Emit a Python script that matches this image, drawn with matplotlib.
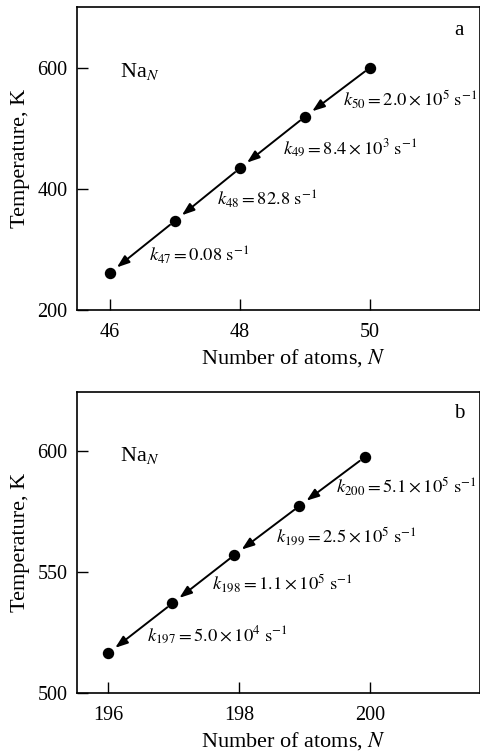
import matplotlib
matplotlib.use("Agg")
import matplotlib.pyplot as plt

plt.rcParams['font.family'] = ['Liberation Serif', 'DejaVu Serif']
plt.rcParams['mathtext.fontset'] = 'stix'

# Panel a: Na_N, N = 46..50
n_a = [46, 47, 48, 49, 50]
temp_a = [261, 347, 434, 519, 600]
rate_sub_a = ['47', '48', '49', '50']
rate_val_a = ['0.08', '82.8', r'8.4\times10^3', r'2.0\times10^5']

# Panel b: Na_N, N = 196..200
n_b = [196.0, 196.98, 197.93, 198.92, 199.92]
temp_b = [516.5, 537.1, 557.1, 577.3, 597.5]
rate_sub_b = ['197', '198', '199', '200']
rate_val_b = [r'5.0\times10^4', r'1.1\times10^5', r'2.5\times10^5', r'5.1\times10^5']

fig = plt.figure(figsize=(4.81, 7.51), dpi=100)
ax_a = fig.add_axes([0.1607, 0.5872, 0.8372, 0.4035])
ax_b = fig.add_axes([0.1607, 0.0768, 0.8372, 0.4016])


def draw_panel(ax, n, temp, subs, vals, xlim, ylim, xticks, yticks,
               label_pos, panel, panel_pos, na_pos):
    ax.plot(n, temp, 'o', color='black', markersize=7.2, zorder=3)
    for i in range(len(n) - 1, 0, -1):
        ax.annotate('', xy=(n[i - 1], temp[i - 1]), xytext=(n[i], temp[i]),
                    arrowprops=dict(arrowstyle='-|>,head_length=0.75,head_width=0.27',
                                    color='black', lw=1.4, shrinkA=4.5, shrinkB=6.5))
    for (x, y), s, v in zip(label_pos, subs, vals):
        ax.text(x, y, rf'$k_{{{s}}} = {v}\ \mathrm{{s}}^{{-1}}$', fontsize=13.3,
                ha='left', va='center')
    ax.text(panel_pos[0], panel_pos[1], panel, fontsize=15, ha='center', va='center')
    ax.text(na_pos[0], na_pos[1], r'Na$_{N}$', fontsize=16, ha='left', va='center')
    ax.set_xlim(*xlim)
    ax.set_ylim(*ylim)
    ax.set_xticks(xticks)
    ax.set_yticks(yticks)
    ax.tick_params(direction='in', length=8, width=1, labelsize=14.5)
    ax.tick_params(axis='x', pad=9)
    ax.tick_params(axis='y', pad=7)
    for sp in ax.spines.values():
        sp.set_linewidth(1.2)
    ax.set_xlabel(r'Number of atoms, $N$', fontsize=16)
    ax.set_ylabel('Temperature, K', fontsize=16)
    ax.xaxis.set_label_coords(0.538, -0.122)
    ax.yaxis.set_label_coords(-0.118, 0.5)


draw_panel(ax_a, n_a, temp_a, rate_sub_a, rate_val_a,
           (45.5, 51.69), (200, 700), [46, 48, 50], [200, 400, 600],
           [(46.6, 290), (47.65, 382), (48.66, 468), (49.58, 547)],
           'a', (51.37, 662), (46.15, 594))

draw_panel(ax_b, n_b, temp_b, rate_sub_b, rate_val_b,
           (195.53, 201.68), (500, 624.5), [196, 198, 200], [500, 550, 600],
           [(196.6, 524), (197.59, 545.4), (198.56, 565), (199.48, 585.2)],
           'b', (201.37, 615.5), (196.18, 598.3))

fig.savefig('out.png', dpi=100)
